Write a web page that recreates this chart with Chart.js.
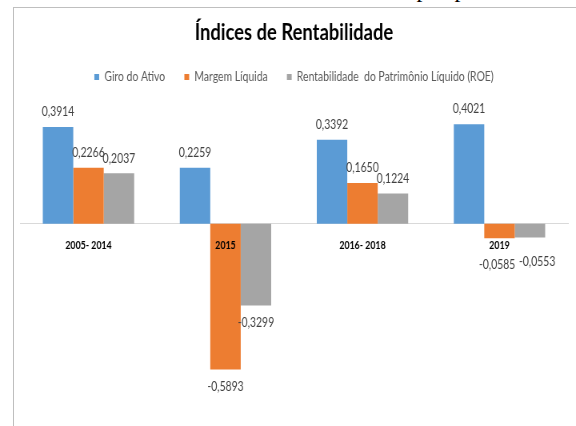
<!DOCTYPE html>
<html>
<head>
<meta charset="utf-8">
<script src="https://cdn.jsdelivr.net/npm/chart.js@4.4.1/dist/chart.umd.min.js"></script>
<style>
  html, body { margin: 0; padding: 0; background: #fff; overflow: hidden; }
  body { width: 576px; height: 426px; position: relative; }
  #caption { position: absolute; left: 0; top: -23px; width: 594px; text-align: center;
             font: 24px/24px "Liberation Serif", "Times New Roman", serif; color: #000; white-space: nowrap; }
  #frame { position: absolute; left: 13px; top: 7px; width: 600px; height: 440px;
           border-left: 1px solid #bfbfbf; border-top: 1px solid #bfbfbf; box-sizing: border-box; }
  #wrap { position: absolute; left: 0; top: 0; width: 720px; height: 426px;
          transform: scaleX(0.8); transform-origin: 0 0; }
</style>
</head>
<body>
<div id="caption">Gráfico 3 – Índices de rentabilidade por período</div>
<div id="frame"></div>
<div id="wrap"><canvas id="c" width="720" height="426"></canvas></div>
<script>
const categories = ['2005- 2014', '2015', '2016- 2018', '2019'];
const seriesNames = ['Giro do Ativo', 'Margem Líquida', 'Rentabilidade  do Patrimônio Líquido (ROE)'];
const giroAtivo = [0.3914, 0.2259, 0.3392, 0.4021];
const margemLiquida = [0.2266, -0.5893, 0.1650, -0.0585];
const roe = [0.2037, -0.3299, 0.1224, -0.0553];
const colors = ['#5B9BD5', '#ED7D31', '#A5A5A5'];

const valueLabels = {
  id: 'valueLabels',
  afterDatasetsDraw(chart, args, opts) {
    const ctx = chart.ctx;
    ctx.save();
    ctx.font = '13px Lato';
    ctx.fillStyle = '#404040';
    ctx.textAlign = 'center';
    ctx.textBaseline = 'middle';
    chart.data.datasets.forEach((ds, di) => {
      const meta = chart.getDatasetMeta(di);
      meta.data.forEach((bar, i) => {
        const v = ds.data[i];
        const txt = v.toFixed(4).replace('.', ',');
        let x = bar.x;
        let y = v >= 0 ? bar.y - 15 : bar.y + 17;
        if (i === opts.movedCategory) {
          x += opts.moveX[di];
          y += opts.moveY[di];
        }
        ctx.fillText(txt, x, y);
      });
    });
    ctx.restore();
  }
};

new Chart(document.getElementById('c'), {
  type: 'bar',
  data: {
    labels: categories,
    datasets: [
      { label: seriesNames[0], data: giroAtivo, backgroundColor: colors[0] },
      { label: seriesNames[1], data: margemLiquida, backgroundColor: colors[1] },
      { label: seriesNames[2], data: roe, backgroundColor: colors[2] }
    ]
  },
  options: {
    responsive: false,
    animation: false,
    devicePixelRatio: 1,
    categoryPercentage: 0.667,
    barPercentage: 1.0,
    layout: { padding: { top: 8, left: 25, right: 10, bottom: 29 } },
    scales: {
      y: { display: false, min: -0.70, max: 0.526 },
      x: {
        position: { y: 0 },
        offset: true,
        grid: { display: true, color: 'rgba(0,0,0,0)', drawTicks: false },
        border: { display: true, color: '#d9d9d9', width: 1 },
        ticks: { z: 1, font: { family: 'Lato', size: 11, weight: 'bold' }, color: '#000', padding: 15,
                 maxRotation: 0, autoSkip: false }
      }
    },
    plugins: {
      title: { display: true, text: 'Índices de Rentabilidade',
               font: { family: 'Lato', size: 23, weight: 'bold' }, color: '#000',
               padding: { top: 11, bottom: 0 } },
      legend: { position: 'top',
                labels: { boxWidth: 6, boxHeight: 6, padding: 24,
                          font: { family: 'Lato', size: 13 }, color: '#595959' } },
      tooltip: { enabled: false },
      valueLabels: { movedCategory: 3, moveX: [0, -3, 9], moveY: [0, 10, 7] }
    }
  },
  plugins: [valueLabels]
});
</script>
</body>
</html>
